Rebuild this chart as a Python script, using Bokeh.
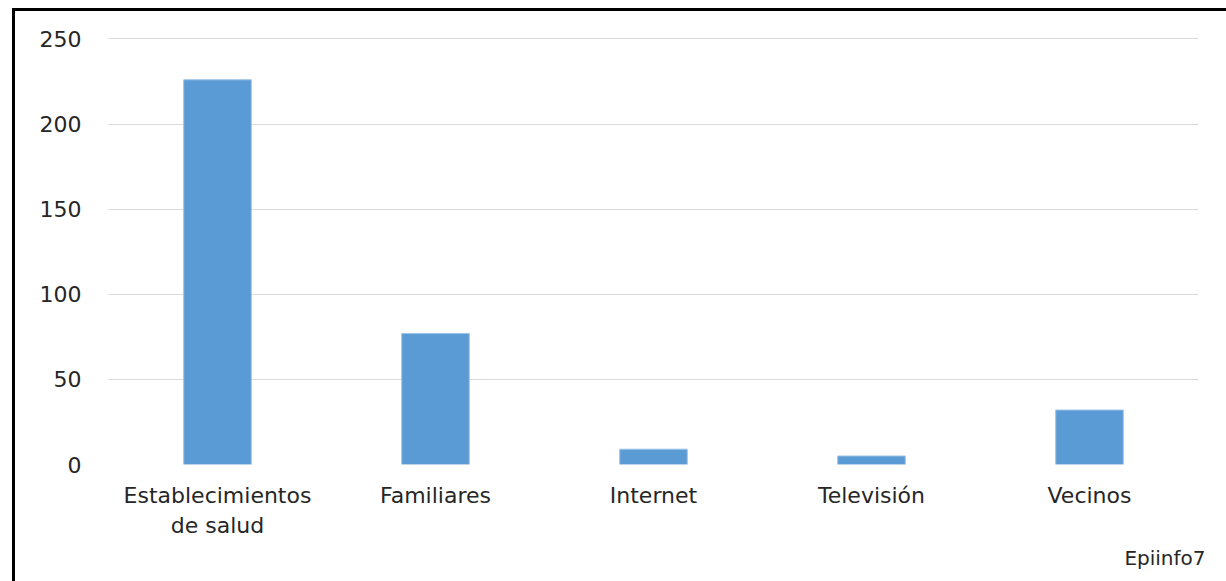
from bokeh.plotting import figure
from bokeh.models import Title, Range1d, FixedTicker
from bokeh.embed import file_html
from bokeh.resources import INLINE

categories = ["Establecimientos\nde salud", "Familiares", "Internet", "Televisión", "Vecinos"]
values = [226, 77, 9, 5, 32]
y_ticks = [0, 50, 100, 150, 200, 250]
source_note = "Epiinfo7"

W, H = 1211, 570
p = figure(x_range=categories, y_range=Range1d(0, 252), width=W, height=H,
           output_backend="svg", toolbar_location=None,
           min_border_left=93, min_border_right=28, min_border_top=24, min_border_bottom=117)
p.margin = (11, 0, 0, 15)
p.styles = {"outline": "3px solid black"}

p.vbar(x=categories, top=values, width=0.31, color="#5b9bd5", line_color="#9dc3e6", line_width=1)

p.outline_line_color = None
p.xgrid.grid_line_color = None
p.ygrid.grid_line_color = "#d9d9d9"
p.ygrid.grid_line_width = 1
p.yaxis.ticker = FixedTicker(ticks=y_ticks)

for ax in (p.xaxis, p.yaxis):
    ax.axis_line_color = None
    ax.major_tick_line_color = None
    ax.minor_tick_line_color = None
    ax.major_label_text_font = "DejaVu Sans"
    ax.major_label_text_font_size = "22px"
    ax.major_label_text_color = "#262626"
p.yaxis.major_label_standoff = 21
p.xaxis.major_label_standoff = 12
p.xaxis.major_label_text_line_height = 1.2

p.add_layout(Title(text=source_note, align="right", text_font="DejaVu Sans",
                   text_font_size="20px", text_font_style="normal", text_color="#262626",
                   standoff=6, offset=-7), "below")

open("out.html", "w").write(file_html(p, INLINE))
